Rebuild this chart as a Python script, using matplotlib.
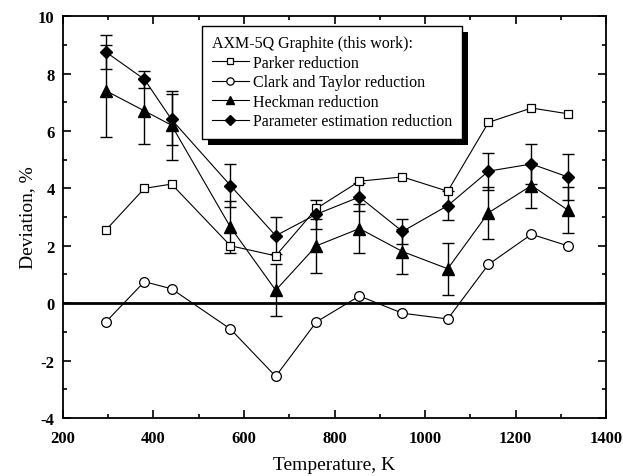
import matplotlib
matplotlib.use("Agg")
import matplotlib.pyplot as plt
from matplotlib.ticker import MultipleLocator
import matplotlib.patches as mpatches

plt.rcParams['font.family'] = ['Liberation Serif', 'DejaVu Serif']
plt.rcParams['axes.unicode_minus'] = False

# temperature points, K
temp = [295, 380, 440, 570, 670, 760, 855, 950, 1050, 1140, 1235, 1315]

# deviations, %
parker = [2.55, 4.0, 4.15, 2.0, 1.65, 3.3, 4.25, 4.4, 3.9, 6.3, 6.8, 6.6]
clark = [-0.65, 0.75, 0.5, -0.9, -2.55, -0.65, 0.25, -0.35, -0.55, 1.35, 2.4, 2.0]
heckman = [7.4, 6.7, 6.2, 2.65, 0.45, 2.0, 2.6, 1.8, 1.2, 3.15, 4.1, 3.25]
heckman_err = [1.6, 1.15, 1.2, 0.9, 0.9, 0.95, 0.85, 0.8, 0.9, 0.9, 0.8, 0.8]
param = [8.75, 7.8, 6.4, 4.1, 2.35, 3.1, 3.7, 2.5, 3.4, 4.6, 4.85, 4.4]
param_err = [0.6, 0.3, 0.9, 0.75, 0.65, 0.5, 0.5, 0.45, 0.5, 0.65, 0.7, 0.8]

fig = plt.figure(figsize=(6.23, 4.77), dpi=100)
ax = fig.add_axes([0.101, 0.1216, 0.872, 0.8424])

ax.axhline(0, color='black', lw=2.0, zorder=1)

ax.errorbar(temp, heckman, yerr=heckman_err, fmt='none', ecolor='black',
            elinewidth=1.0, capsize=4.5, capthick=1.0, zorder=2)
ax.errorbar(temp, param, yerr=param_err, fmt='none', ecolor='black',
            elinewidth=1.0, capsize=4.5, capthick=1.0, zorder=2)

ax.plot(temp, parker, '-', color='black', lw=0.8, marker='s', ms=6,
        mfc='white', mec='black', mew=0.9, label='Parker reduction', zorder=3)
ax.plot(temp, clark, '-', color='black', lw=0.8, marker='o', ms=7,
        mfc='white', mec='black', mew=0.9, label='Clark and Taylor reduction', zorder=3)
ax.plot(temp, heckman, '-', color='black', lw=0.8, marker='^', ms=8,
        mfc='black', mec='black', label='Heckman reduction', zorder=3)
ax.plot(temp, param, '-', color='black', lw=0.8, marker='D', ms=6.5,
        mfc='black', mec='black', label='Parameter estimation reduction', zorder=3)

ax.set_xlim(200, 1400)
ax.set_ylim(-4, 10)
ax.xaxis.set_major_locator(MultipleLocator(200))
ax.xaxis.set_minor_locator(MultipleLocator(100))
ax.yaxis.set_major_locator(MultipleLocator(2))
ax.yaxis.set_minor_locator(MultipleLocator(1))
ax.tick_params(which='both', direction='in', top=True, right=True, width=1.2)
ax.tick_params(which='major', length=6, labelsize=12)
ax.tick_params(axis='x', which='major', pad=9)
ax.tick_params(axis='y', which='major', pad=6)
ax.tick_params(which='minor', length=3)
for lab in ax.get_xticklabels() + ax.get_yticklabels():
    lab.set_fontweight('bold')
for sp in ax.spines.values():
    sp.set_linewidth(1.3)

ax.set_xlabel('Temperature, K', fontsize=14, labelpad=7)
ax.set_ylabel('Deviation, %', fontsize=14, labelpad=1)

leg = ax.legend(loc='upper left', bbox_to_anchor=(0.248, 0.988),
                title='AXM-5Q Graphite (this work):', title_fontsize=11.5,
                fontsize=11.5, frameon=True, fancybox=False, shadow=False,
                handlelength=2.3, handletextpad=0.25, labelspacing=0.22,
                borderpad=0.6, borderaxespad=0.3, markerscale=0.75)
leg._legend_box.align = 'left'
frame = leg.get_frame()
frame.set_edgecolor('black')
frame.set_linewidth(1.0)
frame.set_alpha(1)
leg.set_zorder(10)

# drop shadow behind the legend box
fig.canvas.draw()
bb = leg.get_window_extent().transformed(fig.transFigure.inverted())
dx, dy = 6 / 623, -6 / 477
shadow = mpatches.Rectangle((bb.x0 + dx, bb.y0 + dy), bb.width, bb.height,
                            transform=fig.transFigure, facecolor='black',
                            edgecolor='none', zorder=9, clip_on=False)
ax.add_artist(shadow)

fig.savefig('out.png', dpi=100)
